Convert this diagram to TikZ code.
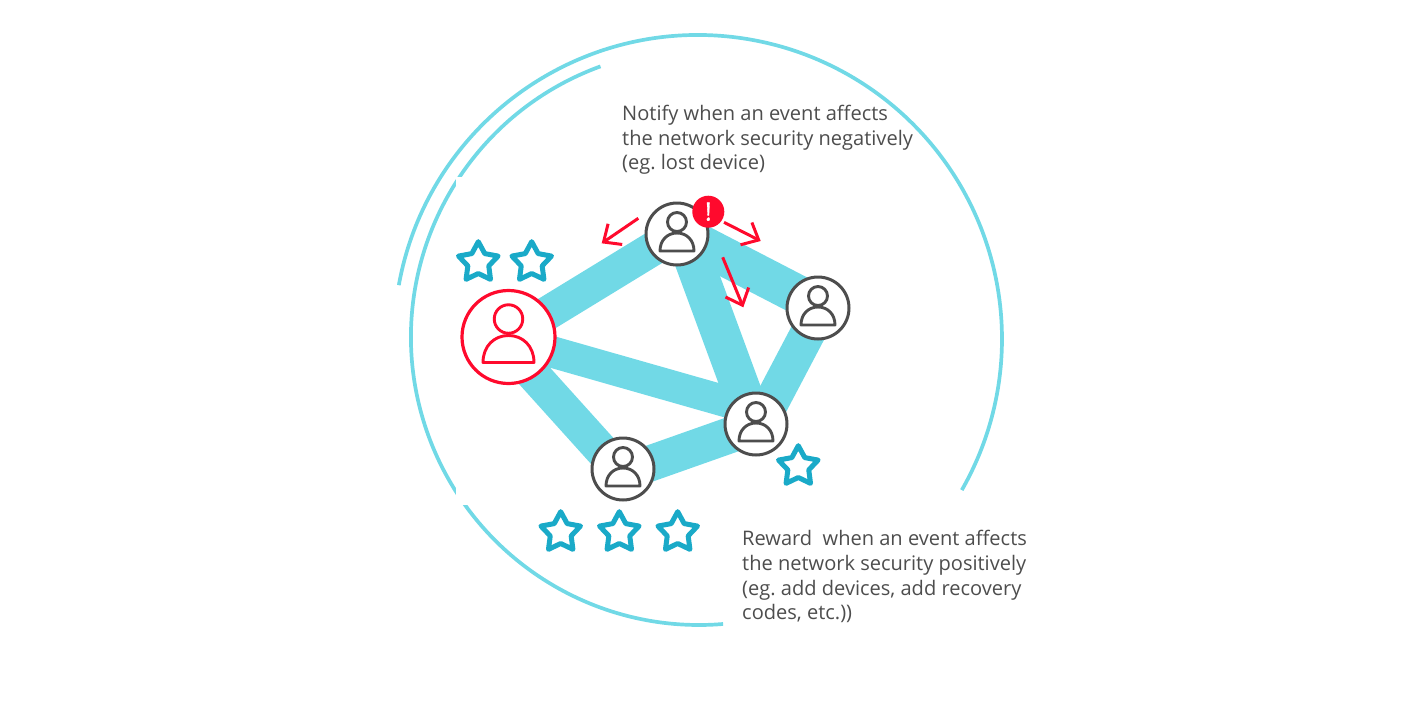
\documentclass[tikz,border=0pt]{standalone}
\usepackage{fontspec}
\setmainfont{Open Sans}
\newfontfamily\markfont[FakeBold=1.2]{Open Sans}
\frenchspacing
\usetikzlibrary{arrows.meta}
\definecolor{band}{HTML}{71D9E6}
\definecolor{starc}{HTML}{1AAAC8}
\definecolor{alert}{HTML}{FF0A2D}
\definecolor{ink}{HTML}{4D4D4D}
\tikzset{
  x=1pt,y=-1pt,
  ring/.style={line width=3.7pt,band,line cap=butt},
  link/.style={line width=#1pt,band},
  link/.default=35,
  user/.style={circle,draw=ink,fill=white,line width=3pt,minimum size=62pt,inner sep=0pt,outer sep=0pt},
  bigusr/.style={circle,draw=alert,fill=white,line width=3.2pt,minimum size=93pt,inner sep=0pt,outer sep=0pt},
  msg/.style={text=ink,font=\fontsize{20.05}{24.8}\selectfont,align=left,inner sep=0pt,anchor=north west},
  warn/.style={line width=3pt,alert,-{Straight Barb[length=14pt,width=25pt,line width=3pt]}},
  person/.pic={
    \draw[line width=2.9pt,line join=round] (0,-12) circle[radius=9.5];
    \draw[line width=2.9pt,line join=round] (-17,17) .. controls (-17,6) and (-9.5,-1) .. (0,-1) .. controls (9.5,-1) and (17,6) .. (17,17) -- cycle;
  },
  star/.pic={
    \draw[starc,line width=5pt,line join=round]
      (-90:20.8) -- (-54:11) -- (-18:20.8) -- (18:11) -- (54:20.8) -- (90:11) -- (126:20.8) -- (162:11) -- (198:20.8) -- (234:11) -- cycle;
  }
}
\begin{document}
\begin{tikzpicture}
\useasboundingbox (0,0) rectangle (1406,705);
% arcs
\draw[ring] ([shift={(698,339)}]-169.8:304) arc[start angle=-169.8,end angle=29.8,radius=304];
\draw[ring] ([shift={(699,337)}]-110:288) arc[start angle=-110,end angle=-274.8,radius=288];
\fill[white] (456,177) rectangle (470,505);
% node positions
\coordinate (pr) at (508.5,337);
\coordinate (pt) at (677,234);
\coordinate (pe) at (818,308);
\coordinate (pl) at (756,424);
\coordinate (pb) at (623,469);
% link ends, where a band does not aim at the centre of its node
\coordinate (rl) at (508.5,339.5);
\coordinate (lr) at (756,410);
\coordinate (rb) at (508.5,347);
\coordinate (br) at (623,474);
\coordinate (tl) at (684,234);
\coordinate (lt) at (754,424);
\coordinate (te) at (677,232);
\coordinate (et) at (818,305);
\coordinate (el) at (821,308);
\coordinate (le) at (760,424);
\coordinate (lb) at (756,426);
\coordinate (bl) at (623,473);
% links
\draw[link=34] (pr) -- (pt);
\draw[link=31.5] (rl) -- (lr);
\draw[link=34] (rb) -- (br);
\draw[link=38.5] (tl) -- (lt);
\draw[link=39] (te) -- (et);
\draw[link=35] (el) -- (le);
\draw[link=36] (lb) -- (bl);
% users
\node[bigusr] (red) at (pr) {};
\node[user] (top) at (pt) {};
\node[user] (east) at (pe) {};
\node[user] (low) at (pl) {};
\node[user] (bot) at (pb) {};
\pic[alert,scale=1.5] at (red) {person};
\pic[ink] at (top) {person};
\pic[ink] at (east) {person};
\pic[ink] at (low) {person};
\pic[ink] at (bot) {person};
% stars
\pic at (478.3,262.5) {star};
\pic at (531.7,262.5) {star};
\pic at (798.3,466.5) {star};
\pic at (560.7,532.5) {star};
\pic at (619.3,532.5) {star};
\pic at (677.7,532.5) {star};
% alert
\node[circle,fill=alert,minimum size=32pt,inner sep=0pt,outer sep=0pt,text=white,font=\fontsize{25}{25}\markfont] (badge) at (708.3,211.7) {!};
\coordinate (a1s) at (638.3,218.3); \coordinate (a1e) at (601.7,243.3);
\coordinate (a2s) at (724,222.3);   \coordinate (a2e) at (760.7,241);
\coordinate (a3s) at (722.7,257.3); \coordinate (a3e) at (743.3,307.3);
\draw[warn] (a1s) -- (a1e);
\draw[warn] (a2s) -- (a2e);
\draw[warn] (a3s) -- (a3e);
% text
\node[msg] (notify) at (622,104.7) {Notify when an event affects\\the network security negatively\\(eg. lost device)};
\node[msg] (reward) at (742,530) {Reward\ \ when an event affects\\the network security positively\\(eg. add devices, add recovery\\codes, etc.))};
\end{tikzpicture}
\end{document}
